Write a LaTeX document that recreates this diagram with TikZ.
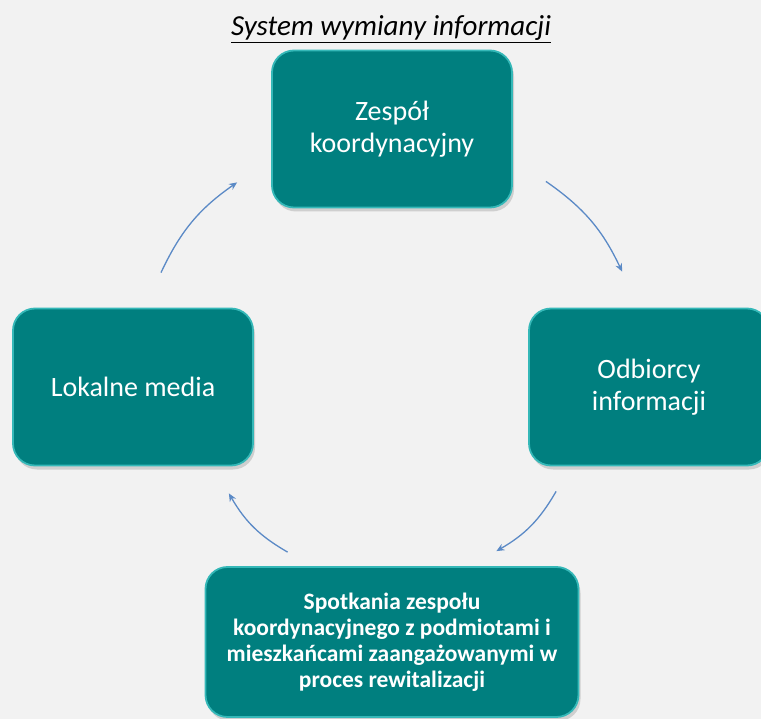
\documentclass[tikz,border=0pt]{standalone}
\usepackage{fontspec}
\setmainfont{Carlito}
\usepackage{xcolor}
\usetikzlibrary{positioning,shadows,arrows.meta}
\definecolor{tealbox}{HTML}{007F7F}
\definecolor{tealrim}{HTML}{35B8B8}
\definecolor{arrowblue}{HTML}{5B8AC6}
\definecolor{backgray}{HTML}{F2F2F2}
\begin{document}
\begin{tikzpicture}[
  x=1pt,
  y=1pt,
  box/.style={
    rectangle,
    rounded corners=22pt,
    fill=tealbox,
    draw=tealrim,
    line width=1.8pt,
    text=white,
    align=center,
    minimum width=240pt,
    minimum height=157pt,
    font=\fontsize{28}{32}\selectfont,
    drop shadow={shadow xshift=2pt, shadow yshift=-4pt, opacity=0.3}
  },
  flow/.style={
    arrowblue,
    line width=1.3pt,
    -{Stealth[length=8pt,width=7pt]},
    bend left=15
  }
]
  \useasboundingbox (0,0) rectangle (761,-719);
  \fill[backgray] (0,0) rectangle (761,-719);
  \clip (0,0) rectangle (761,-719);

  \node[font=\itshape\fontsize{29}{32}\selectfont] (tytul) at (391,-29)
    {\underline{System wymiany informacji}};

  \node[box] (koord) at (392,-129) {Zespół\\koordynacyjny};
  \node[box] (odbiorcy) at (649,-387) {Odbiorcy\\informacji};
  \node[box] (media) at (133,-387) {Lokalne media};
  \node[box,
    minimum width=373pt,
    minimum height=150pt,
    font=\bfseries\fontsize{23.5}{26}\selectfont] (spotkania) at (392,-642)
    {Spotkania zespołu\\koordynacyjnego z podmiotami i\\mieszkańcami zaangażowanymi w\\proces rewitalizacji};

  \coordinate (k-out) at ([shift={(33,27)}]koord.south east);
  \coordinate (o-in) at ([shift={(94,36)}]odbiorcy.north west);
  \coordinate (o-out) at ([shift={(28,-25)}]odbiorcy.south west);
  \coordinate (s-in) at ([shift={(-83,15)}]spotkania.north east);
  \coordinate (s-out) at ([shift={(83,14)}]spotkania.north west);
  \coordinate (m-in) at ([shift={(-25,-27)}]media.south east);
  \coordinate (m-out) at ([shift={(28,35)}]media.north);
  \coordinate (k-in) at ([shift={(-34,26)}]koord.south west);

  \draw[flow] (k-out) to (o-in);
  \draw[flow] (o-out) to (s-in);
  \draw[flow] (s-out) to (m-in);
  \draw[flow] (m-out) to (k-in);
\end{tikzpicture}
\end{document}
